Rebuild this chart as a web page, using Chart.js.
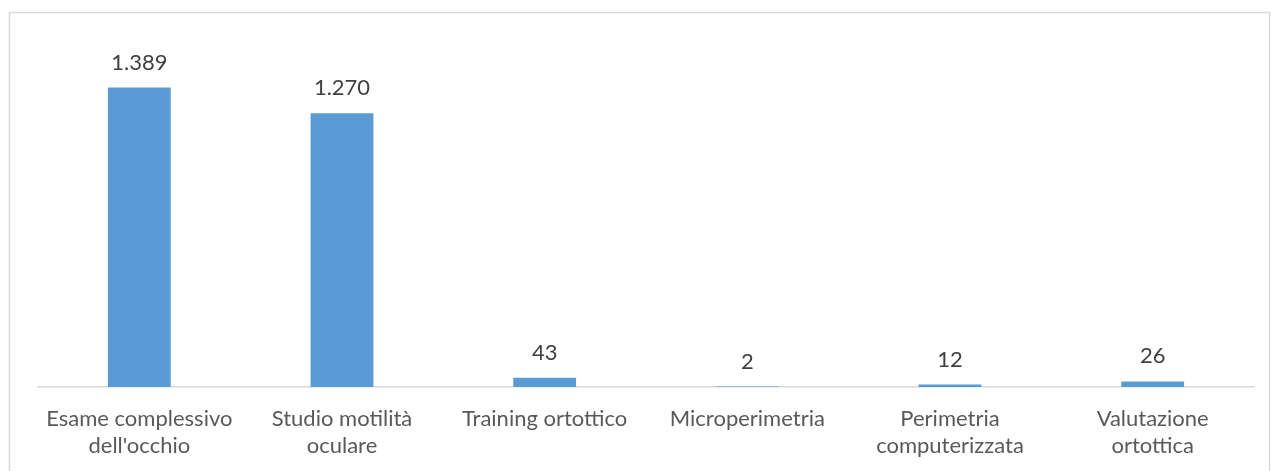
<!DOCTYPE html>
<html>
<head>
<meta charset="utf-8">
<script src="https://cdn.jsdelivr.net/npm/chart.js@4.4.0/dist/chart.umd.min.js"></script>
<style>
    html, body { margin: 0; padding: 0; background: #ffffff; }
    #wrap { position: absolute; left: 0; top: 0; width: 1271px; height: 471px; }
</style>
</head>
<body>
<div id="wrap"><canvas id="chart"></canvas></div>
<script>
    // Dati del grafico
    var categories = [
        ['Esame complessivo', "dell'occhio"],
        ['Studio motilità', 'oculare'],
        ['Training ortottico'],
        ['Microperimetria'],
        ['Perimetria', 'computerizzata'],
        ['Valutazione', 'ortottica']
    ];
    var values = [1389, 1270, 43, 2, 12, 26];
    var axisMax = 1600;

    var barColor = '#5b9bd5';
    var textColor = '#595959';
    var labelColor = '#404040';
    var fontFamily = 'Lato, "Open Sans", sans-serif';

    // Formato italiano: 1.389
    function formatNumber(v) {
        return String(v).replace(/\B(?=(\d{3})+(?!\d))/g, '.');
    }

    // Cornice esterna del grafico
    var framePlugin = {
        id: 'frame',
        beforeDraw: function(chart) {
            var ctx = chart.ctx;
            ctx.save();
            ctx.strokeStyle = '#d9d9d9';
            ctx.lineWidth = 1.5;
            ctx.strokeRect(9.5, 12.5, 1260, 470);
            ctx.restore();
        }
    };

    // Etichette dei valori sopra le barre
    var valueLabels = {
        id: 'valueLabels',
        afterDatasetsDraw: function(chart) {
            var ctx = chart.ctx;
            var meta = chart.getDatasetMeta(0);
            ctx.save();
            ctx.font = '22px ' + fontFamily;
            ctx.fillStyle = labelColor;
            ctx.textAlign = 'center';
            ctx.textBaseline = 'middle';
            meta.data.forEach(function(bar, i) {
                ctx.fillText(formatNumber(values[i]), bar.x, bar.y - 25);
            });
            ctx.restore();
        }
    };

    new Chart(document.getElementById('chart').getContext('2d'), {
        type: 'bar',
        data: {
            labels: categories,
            datasets: [{
                data: values,
                backgroundColor: barColor,
                borderWidth: 0,
                barPercentage: 1,
                categoryPercentage: 0.31
            }]
        },
        options: {
            responsive: true,
            maintainAspectRatio: false,
            animation: false,
            layout: {
                padding: { left: 38, right: 17, top: 42, bottom: 13 }
            },
            plugins: {
                legend: { display: false },
                tooltip: { enabled: false }
            },
            scales: {
                y: {
                    display: false,
                    min: 0,
                    max: axisMax
                },
                x: {
                    grid: { display: false },
                    border: { display: true, color: '#d9d9d9', width: 1.5 },
                    ticks: {
                        color: textColor,
                        font: { family: fontFamily, size: 22, lineHeight: 1.23 },
                        padding: 10,
                        maxRotation: 0,
                        autoSkip: false
                    },
                    afterFit: function(scale) {
                        scale.height = 71;
                    }
                }
            }
        },
        plugins: [framePlugin, valueLabels]
    });
</script>
</body>
</html>
